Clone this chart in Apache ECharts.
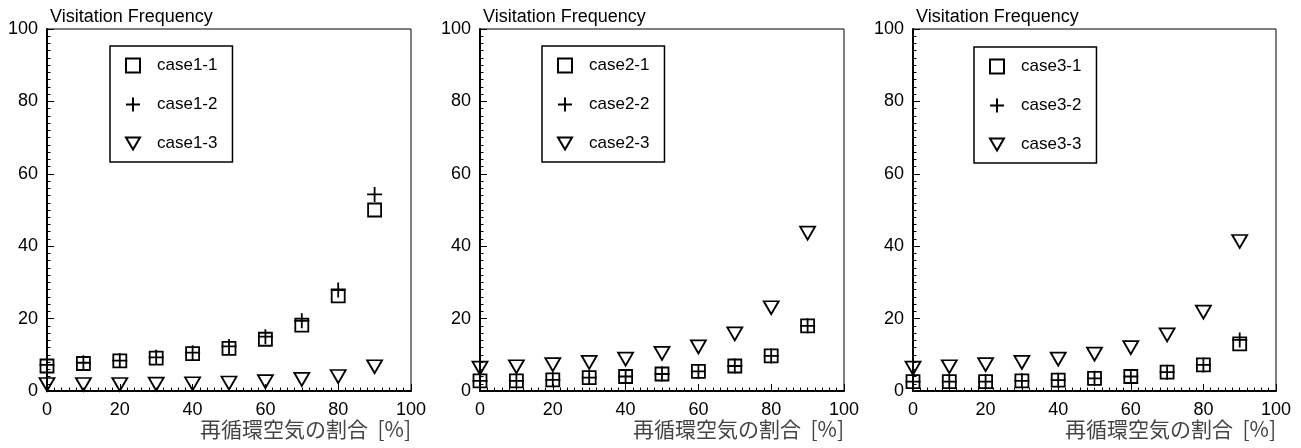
<!DOCTYPE html>
<html>
<head>
<meta charset="utf-8">
<script src="https://cdn.jsdelivr.net/npm/echarts@6/dist/echarts.min.js"></script>
<style>html,body{margin:0;padding:0;background:#fff}#c{width:1301px;height:448px}</style>
</head>
<body>
<div id="c"></div>
<script>
// ---- data ----
const xValues = [0, 10, 20, 30, 40, 50, 60, 70, 80, 90];
const case1_1 = [6.9, 7.6, 8.3, 9.1, 10.3, 11.8, 14.3, 18.2, 26.3, 50.0];
const case1_2 = [7.2, 7.8, 8.4, 9.3, 10.6, 12.3, 15.0, 19.4, 27.9, 54.3];
const case1_3 = [1.8, 1.8, 1.8, 1.9, 2.0, 2.2, 2.6, 3.2, 4.0, 6.7];
const case2_1 = [2.8, 2.8, 3.1, 3.7, 4.0, 4.7, 5.4, 6.9, 9.7, 18.0];
const case2_2 = [2.8, 2.8, 3.1, 3.7, 4.0, 4.7, 5.4, 6.9, 9.7, 18.0];
const case2_3 = [6.3, 6.7, 7.3, 7.9, 8.8, 10.4, 12.2, 15.8, 23.0, 43.6];
const case3_1 = [2.6, 2.6, 2.6, 2.8, 3.0, 3.5, 4.0, 5.2, 7.2, 13.0];
const case3_2 = [2.6, 2.6, 2.6, 2.8, 3.0, 3.5, 4.0, 5.2, 7.2, 14.1];
const case3_3 = [6.3, 6.7, 7.3, 7.9, 8.8, 10.2, 12.0, 15.5, 21.8, 41.3];
const panelNames = [["case1-1", "case1-2", "case1-3"], ["case2-1", "case2-2", "case2-3"], ["case3-1", "case3-2", "case3-3"]];
const panelData = [[case1_1, case1_2, case1_3], [case2_1, case2_2, case2_3], [case3_1, case3_2, case3_3]];
const yTitle = "Visitation Frequency";
const xTitle = "再循環空気の割合  [%]";
const axisMin = 0, axisMax = 100, axisStep = 20;

// ---- layout ----
const grids = [
  { left: 47, top: 29, width: 364, height: 362 },
  { left: 480, top: 29, width: 364, height: 362 },
  { left: 913, top: 29, width: 363, height: 362 }
];
const legendPos = [{ left: 110, top: 46 }, { left: 542, top: 46 }, { left: 974, top: 47 }];
const FONT = '"Liberation Sans", Arial, sans-serif';
const symbols = [
  { symbol: 'rect', size: 13 },
  { symbol: 'path://M0,7L14,7M7,0L7,14', size: 15 },
  { symbol: 'path://M0,0L14,0L7,12Z', size: [15, 13] }
];

const option = {
  animation: false,
  backgroundColor: '#fff',
  grid: grids.map(g => Object.assign({ show: true, borderColor: '#000', borderWidth: 1, backgroundColor: 'transparent' }, g)),
  xAxis: grids.map((g, i) => ({
    type: 'value', gridIndex: i, min: axisMin, max: axisMax, interval: axisStep,
    axisLine: { show: true, onZero: false, lineStyle: { color: '#000', width: 2 } },
    axisTick: { show: true, inside: true, length: 7, lineStyle: { color: '#000', width: 1 } },
    minorTick: { show: true, splitNumber: 10, length: 3.5, lineStyle: { color: '#000', width: 1 } },
    splitLine: { show: false },
    axisLabel: { color: '#000', fontSize: 18, fontFamily: FONT, margin: 10 },
    name: xTitle, nameLocation: 'end', nameGap: 0,
    nameTextStyle: { color: '#444', fontSize: 21, fontFamily: '"Noto Sans CJK JP", sans-serif', align: 'right', verticalAlign: 'top', padding: [28, 0, 0, 0] }
  })),
  yAxis: grids.map((g, i) => ({
    type: 'value', gridIndex: i, min: axisMin, max: axisMax, interval: axisStep,
    axisLine: { show: true, onZero: false, lineStyle: { color: '#000', width: 2 } },
    axisTick: { show: true, inside: true, length: 7, lineStyle: { color: '#000', width: 1 } },
    minorTick: { show: true, splitNumber: 10, length: 3.5, lineStyle: { color: '#000', width: 1 } },
    splitLine: { show: false },
    axisLabel: { color: '#000', fontSize: 18, fontFamily: FONT, margin: 9 },
    name: yTitle, nameLocation: 'end', nameGap: 3,
    nameTextStyle: { color: '#000', fontSize: 18, fontFamily: FONT, align: 'left', verticalAlign: 'bottom', padding: [0, 0, 0, 3] }
  })),
  legend: panelNames.map((names, i) => ({
    data: names,
    orient: 'vertical',
    left: legendPos[i].left, top: legendPos[i].top,
    padding: [11, 15, 10, 15],
    itemGap: 22, itemWidth: 14, itemHeight: 14,
    borderColor: '#000', borderWidth: 1.5, backgroundColor: '#fff',
    textStyle: { color: '#000', fontSize: 17, fontFamily: FONT, padding: [0, 0, 0, 12] },
    selectedMode: false
  })),
  series: []
};

panelData.forEach((arrs, i) => {
  arrs.forEach((vals, k) => {
    option.series.push({
      type: 'scatter', name: panelNames[i][k],
      xAxisIndex: i, yAxisIndex: i,
      symbol: symbols[k].symbol, symbolSize: symbols[k].size,
      clip: false, z: 5,
      itemStyle: { color: 'transparent', borderColor: '#000', borderWidth: 1.8, opacity: 1 },
      emphasis: { disabled: true },
      data: xValues.map((x, j) => [x, vals[j]])
    });
  });
});

const chart = echarts.init(document.getElementById('c'), null, { renderer: 'canvas' });
chart.setOption(option);
</script>
</body>
</html>
